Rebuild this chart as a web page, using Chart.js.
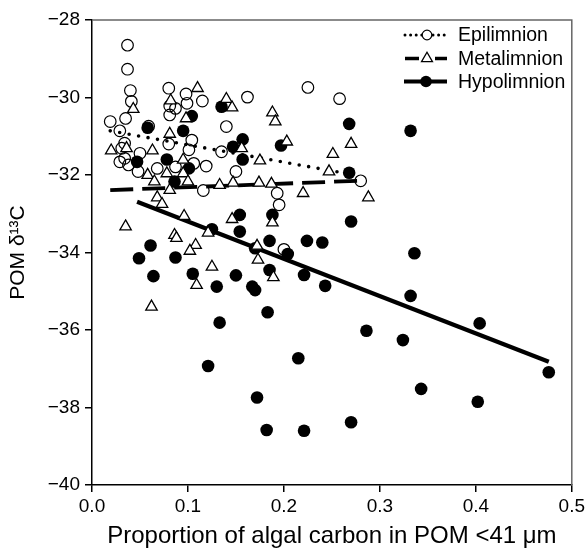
<!DOCTYPE html>
<html>
<head>
<meta charset="utf-8">
<script src="https://cdn.jsdelivr.net/npm/chart.js@4.4.1/dist/chart.umd.min.js"></script>
<style>
  html, body { margin: 0; padding: 0; background: #fff; }
  #wrap { width: 588px; height: 551px; }
</style>
</head>
<body>
<div id="wrap"><canvas id="chart" width="588" height="551"></canvas></div>
<script>
// series names
const seriesNames = ['Epilimnion', 'Metalimnion', 'Hypolimnion'];

// Epilimnion (open circles)
const epiX = [0.037, 0.037, 0.040, 0.041, 0.035, 0.019, 0.029, 0.059, 0.080, 0.081,
  0.087, 0.081, 0.098, 0.099, 0.115, 0.162, 0.225, 0.140, 0.104, 0.101,
  0.080, 0.034, 0.031, 0.034, 0.029, 0.038, 0.050, 0.048, 0.068, 0.087,
  0.106, 0.119, 0.135, 0.150, 0.116, 0.193, 0.258, 0.280, 0.195, 0.200];
const epiY = [-28.65, -29.27, -29.82, -30.10, -30.54, -30.62, -30.86, -30.74, -29.76, -30.22,
  -30.28, -30.45, -29.91, -30.15, -30.09, -29.99, -29.74, -30.75, -31.10, -31.35,
  -31.20, -31.18, -31.31, -31.57, -31.66, -31.74, -31.44, -31.91, -31.83, -31.79,
  -31.70, -31.77, -31.40, -31.91, -32.40, -32.47, -30.03, -32.15, -32.77, -33.92];

// Metalimnion (open triangles)
const metaX = [0.110, 0.140, 0.146, 0.043, 0.082, 0.098, 0.188, 0.191, 0.081, 0.203,
  0.020, 0.036, 0.063, 0.156, 0.175, 0.095, 0.058, 0.065, 0.078, 0.095,
  0.100, 0.081, 0.133, 0.147, 0.174, 0.187, 0.220, 0.068, 0.251, 0.270,
  0.247, 0.288, 0.073, 0.035, 0.096, 0.146, 0.121, 0.086, 0.088, 0.108,
  0.102, 0.172, 0.173, 0.188, 0.125, 0.109, 0.189, 0.062];
const metaY = [-29.76, -30.04, -30.26, -30.30, -30.08, -30.54, -30.39, -30.62, -30.94, -31.14,
  -31.37, -31.31, -31.37, -31.31, -31.63, -31.61, -32.00, -32.17, -31.96, -31.96,
  -32.17, -32.39, -32.26, -32.20, -32.20, -32.23, -32.47, -32.58, -31.46, -31.20,
  -31.91, -32.58, -32.75, -33.33, -33.06, -33.14, -33.49, -33.55, -33.63, -33.81,
  -33.96, -33.83, -34.19, -33.23, -34.37, -34.84, -34.64, -35.40];

// Hypolimnion (filled circles)
const hypoX = [0.104, 0.095, 0.058, 0.135, 0.157, 0.147, 0.157, 0.197, 0.047, 0.078,
  0.101, 0.086, 0.268, 0.332, 0.268, 0.154, 0.154, 0.188, 0.185, 0.224,
  0.240, 0.061, 0.049, 0.087, 0.125, 0.170, 0.204, 0.064, 0.105, 0.150,
  0.185, 0.221, 0.130, 0.167, 0.170, 0.133, 0.183, 0.215, 0.270, 0.336,
  0.243, 0.332, 0.404, 0.286, 0.324, 0.121, 0.172, 0.182, 0.221, 0.476,
  0.343, 0.402, 0.270];
const hypoY = [-30.48, -30.86, -30.78, -30.24, -31.08, -31.27, -31.60, -31.24, -31.66, -31.60,
  -31.83, -32.17, -30.68, -30.86, -31.94, -33.03, -33.46, -33.03, -33.70, -33.70,
  -33.74, -33.82, -34.15, -34.13, -33.40, -33.89, -34.04, -34.61, -34.55, -34.59,
  -34.45, -34.58, -34.88, -34.88, -34.97, -35.81, -35.54, -36.73, -33.20, -34.02,
  -34.86, -35.12, -35.83, -36.02, -36.26, -36.93, -37.74, -38.58, -38.60, -37.09,
  -37.52, -37.85, -38.38];

// regression lines, end points
const epiFitX = [0.019, 0.265];
const epiFitY = [-30.86, -31.96];
const metaFitX = [0.019, 0.277];
const metaFitY = [-32.39, -32.15];
const hypoFitX = [0.047, 0.476];
const hypoFitY = [-32.69, -36.82];

// axes
const xTicks = [0.0, 0.1, 0.2, 0.3, 0.4, 0.5];
const yTicks = [-40, -38, -36, -34, -32, -30, -28];
const xTitle = 'Proportion of algal carbon in POM <41 \u03bcm';
const yTitle = 'POM \u03b4\u00b9\u00b3C';

const FONT = '"Liberation Sans", Arial, Helvetica, sans-serif';

function pts(xs, ys) {
  return xs.map((x, i) => ({ x: x, y: ys[i] }));
}

// top and right frame lines
const framePlugin = {
  id: 'frame',
  afterDatasetsDraw(chart) {
    const { ctx, chartArea: a } = chart;
    ctx.save();
    ctx.strokeStyle = '#666';
    ctx.lineWidth = 1.5;
    ctx.beginPath();
    ctx.moveTo(a.left, a.top);
    ctx.lineTo(a.right, a.top);
    ctx.lineTo(a.right, a.bottom);
    ctx.stroke();
    ctx.restore();
  }
};

// legend drawn by hand, the way the figure has it
const legendPlugin = {
  id: 'sketchLegend',
  afterDraw(chart) {
    const ctx = chart.ctx;
    const x0 = 405, x1 = 449, xm = 427, tx = 458;
    const rows = [35, 58.5, 81.5];
    ctx.save();
    ctx.strokeStyle = '#000';
    ctx.fillStyle = '#000';

    // Epilimnion: dots and open circle
    let y = rows[0];
    ctx.beginPath();
    ctx.setLineDash([0, 5.6]);
    ctx.lineCap = 'round';
    ctx.lineWidth = 3;
    ctx.moveTo(x0, y); ctx.lineTo(x1, y);
    ctx.stroke();
    ctx.setLineDash([]);
    ctx.beginPath();
    ctx.arc(xm, y, 4.8, 0, Math.PI * 2);
    ctx.fillStyle = '#fff';
    ctx.fill();
    ctx.lineWidth = 1.2;
    ctx.stroke();

    // Metalimnion: dashes and open triangle
    y = rows[1];
    ctx.lineCap = 'butt';
    ctx.lineWidth = 3.5;
    ctx.beginPath();
    ctx.moveTo(x0, y); ctx.lineTo(419, y);
    ctx.moveTo(435, y); ctx.lineTo(447, y);
    ctx.stroke();
    const r = 6.3;
    ctx.beginPath();
    ctx.moveTo(xm, y - r);
    ctx.lineTo(xm + r * 0.866, y + r / 2);
    ctx.lineTo(xm - r * 0.866, y + r / 2);
    ctx.closePath();
    ctx.fillStyle = '#fff';
    ctx.fill();
    ctx.lineWidth = 1.3;
    ctx.stroke();

    // Hypolimnion: thick line and filled circle
    y = rows[2];
    ctx.lineWidth = 4;
    ctx.beginPath();
    ctx.moveTo(404, y); ctx.lineTo(447, y);
    ctx.stroke();
    ctx.beginPath();
    ctx.arc(426, y, 5.8, 0, Math.PI * 2);
    ctx.fillStyle = '#000';
    ctx.fill();

    ctx.fillStyle = '#000';
    ctx.font = '19.5px ' + FONT;
    ctx.textBaseline = 'middle';
    ctx.textAlign = 'left';
    seriesNames.forEach((name, i) => ctx.fillText(name, tx, rows[i] + 1));
    ctx.restore();
  }
};

const config = {
  type: 'scatter',
  data: {
    datasets: [
      {
        label: seriesNames[1],
        data: pts(metaX, metaY),
        pointStyle: 'triangle',
        pointRadius: 6.6,
        backgroundColor: '#fff',
        borderColor: '#000',
        borderWidth: 1.3,
        order: 1
      },
      {
        label: seriesNames[2],
        data: pts(hypoX, hypoY),
        pointStyle: 'circle',
        pointRadius: 6.3,
        backgroundColor: '#000',
        borderColor: '#000',
        borderWidth: 0,
        order: 2
      },
      {
        label: seriesNames[0],
        data: pts(epiX, epiY),
        pointStyle: 'circle',
        pointRadius: 5.8,
        backgroundColor: 'rgba(255,255,255,0)',
        borderColor: '#000',
        borderWidth: 1.2,
        order: 3
      },
      {
        label: 'fit ' + seriesNames[0],
        data: pts(epiFitX, epiFitY),
        showLine: true,
        pointRadius: 0,
        borderColor: '#000',
        borderWidth: 3.6,
        borderDash: [0, 9.6],
        borderCapStyle: 'round',
        order: 10
      },
      {
        label: 'fit ' + seriesNames[1],
        data: pts(metaFitX, metaFitY),
        showLine: true,
        pointRadius: 0,
        borderColor: '#000',
        borderWidth: 3.8,
        borderDash: [23, 9],
        borderCapStyle: 'butt',
        order: 10
      },
      {
        label: 'fit ' + seriesNames[2],
        data: pts(hypoFitX, hypoFitY),
        showLine: true,
        pointRadius: 0,
        borderColor: '#000',
        borderWidth: 4.2,
        order: 10
      }
    ]
  },
  options: {
    responsive: false,
    animation: false,
    devicePixelRatio: 1,
    layout: { padding: { left: 0, top: 20, right: 15, bottom: 0 } },
    plugins: {
      legend: { display: false },
      tooltip: { enabled: false }
    },
    scales: {
      x: {
        type: 'linear',
        min: 0,
        max: 0.5,
        afterFit(scale) { scale.height = 66; },
        afterBuildTicks(scale) { scale.ticks = xTicks.map(v => ({ value: v })); },
        ticks: {
          color: '#000',
          font: { family: FONT, size: 19 },
          padding: 3,
          maxRotation: 0,
          callback: v => Number(v).toFixed(1)
        },
        grid: { drawOnChartArea: false, drawTicks: true, tickLength: 7, color: '#000', lineWidth: 1.5 },
        border: { display: true, color: '#000', width: 1.5 },
        title: {
          display: true,
          text: xTitle,
          color: '#000',
          font: { family: FONT, size: 24 },
          padding: { top: 0, bottom: 0 }
        }
      },
      y: {
        type: 'linear',
        min: -40,
        max: -28,
        afterFit(scale) { scale.width = 92; },
        afterBuildTicks(scale) { scale.ticks = yTicks.map(v => ({ value: v })); },
        ticks: {
          color: '#000',
          font: { family: FONT, size: 19 },
          padding: 5,
          callback: v => (v < 0 ? '\u2212' : '') + Math.abs(v)
        },
        grid: { drawOnChartArea: false, drawTicks: true, tickLength: 7, color: '#000', lineWidth: 1.5 },
        border: { display: true, color: '#000', width: 1.5 },
        title: {
          display: true,
          text: yTitle,
          color: '#000',
          font: { family: FONT, size: 21 },
          padding: { top: 6, bottom: 0 }
        }
      }
    }
  },
  plugins: [framePlugin, legendPlugin]
};

new Chart(document.getElementById('chart').getContext('2d'), config);
</script>
</body>
</html>
